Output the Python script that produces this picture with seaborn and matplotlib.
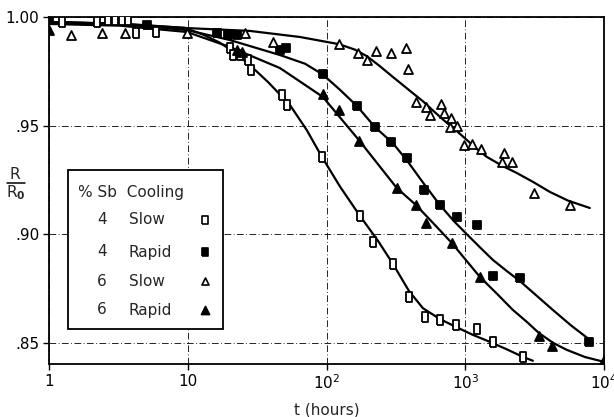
import numpy as np
import pandas as pd
import matplotlib
matplotlib.use("Agg")
import matplotlib.pyplot as plt
from matplotlib.patches import Rectangle
from matplotlib.lines import Line2D
import seaborn as sns

# ---- data ----
s4_slow_x = [1.24, 2.22, 2.66, 2.99, 3.36, 3.71, 4.24, 5.9, 20.1, 21.2, 23.8, 27.1, 28.5, 47.7, 51.8,
             92.7, 174, 216, 301, 392, 512, 656, 855, 1213, 1582, 2601]
s4_slow_y = [0.9977, 0.9977, 0.9986, 0.9986, 0.9986, 0.9986, 0.9926, 0.993, 0.9857, 0.9825, 0.9825, 0.9802,
             0.9756, 0.9641, 0.9595, 0.9356, 0.9085, 0.8965, 0.8864, 0.8712, 0.862, 0.8606, 0.8583, 0.8565,
             0.8505, 0.8436]

s4_rapid_x = [1.0, 5.08, 16.2, 19.5, 22.6, 46.2, 51, 94.2, 166, 223, 291, 380, 503, 656, 869, 1213, 1582,
              2474, 7770]
s4_rapid_y = [0.999, 0.9963, 0.9926, 0.9917, 0.9917, 0.9848, 0.9857, 0.9738, 0.959, 0.9494, 0.9425, 0.9351,
              0.9204, 0.9135, 0.908, 0.9043, 0.8809, 0.88, 0.8505]

s6_slow_x = [1.44, 2.41, 3.53, 9.87, 25.8, 41.1, 123, 168, 195, 227, 291, 373, 386, 441, 520, 556, 667, 702,
             788, 774, 869, 977, 1116, 1295, 1897, 1835, 2167, 3120, 5676]
s6_slow_y = [0.9917, 0.9926, 0.9926, 0.9926, 0.9926, 0.9885, 0.9876, 0.9834, 0.9802, 0.9844, 0.9834, 0.9857,
             0.9761, 0.9609, 0.9586, 0.9549, 0.96, 0.9558, 0.9535, 0.9494, 0.9499, 0.9411, 0.9416, 0.9393,
             0.9374, 0.9333, 0.9333, 0.919, 0.9135]

s6_rapid_x = [1.0, 22.6, 24.6, 94.2, 123, 171, 321, 441, 520, 800, 1274, 3390, 4205, 10000]
s6_rapid_y = [0.994, 0.9848, 0.9839, 0.9646, 0.9572, 0.943, 0.9213, 0.9135, 0.9052, 0.896, 0.8804, 0.8533,
              0.8487, 0.8422]

# fitted curves (nodes)
c4_slow_x = [1, 3.25, 9.55, 13, 17, 22, 28, 38, 54.5, 72, 92.7, 125, 174, 235, 301, 392, 495, 656, 855,
             1135, 1504, 2000, 2601, 3069]
c4_slow_y = [0.9977, 0.997, 0.995, 0.9918, 0.9882, 0.9835, 0.9779, 0.9700, 0.9595, 0.9480, 0.9356, 0.9220,
             0.9085, 0.8970, 0.8864, 0.8740, 0.8660, 0.8610, 0.8574, 0.8537, 0.8505, 0.8470, 0.8436, 0.8418]

c4_rapid_x = [1, 3.25, 9.87, 20.1, 46.2, 70, 94.2, 125, 166, 223, 300, 380, 500, 656, 830, 1027, 1300,
              1582, 2000, 2474, 3300, 4276, 5800, 7905]
c4_rapid_y = [0.9977, 0.9968, 0.994, 0.9894, 0.9825, 0.9785, 0.9735, 0.9665, 0.959, 0.9494, 0.9420, 0.9340,
              0.9235, 0.9135, 0.9060, 0.9000, 0.8935, 0.8882, 0.8830, 0.8785, 0.8715, 0.8652, 0.8580, 0.8514]

c6_slow_x = [1, 3.25, 9.87, 28, 64.3, 123, 160, 195, 240, 301, 400, 500, 584, 700, 869, 1027, 1200, 1432,
             1850, 2354, 3100, 4073, 5500, 7905]
c6_slow_y = [0.9977, 0.9968, 0.9949, 0.9936, 0.9908, 0.9875, 0.9850, 0.9820, 0.9776, 0.9724, 0.9660, 0.9610,
             0.9570, 0.9525, 0.9475, 0.9434, 0.9395, 0.9356, 0.9315, 0.9282, 0.9240, 0.9195, 0.9155, 0.9121]

c6_rapid_x = [1, 3.25, 9.87, 20.1, 46.2, 94.2, 171, 321, 441, 600, 800, 1000, 1274, 1700, 2203, 2800, 3390,
              4300, 5396, 7300, 10000]
c6_rapid_y = [0.9968, 0.996, 0.9931, 0.9862, 0.9765, 0.9632, 0.9434, 0.9213, 0.9135, 0.9045, 0.896, 0.8885,
              0.8804, 0.8725, 0.8652, 0.8595, 0.8546, 0.8500, 0.8468, 0.8435, 0.8413]

legend_pct = ["4", "4", "6", "6"]
legend_cool = ["Slow", "Rapid", "Slow", "Rapid"]

x_ticks = [1, 10, 100, 1000, 10000]
x_ticklabels = ["1", "10", r"$10^2$", r"$10^3$", r"$10^4$"]
y_ticks = [0.85, 0.90, 0.95, 1.00]
y_ticklabels = [".85", ".90", ".95", "1.00"]

# ---- styling ----
sns.set_theme(style="white")
plt.rcParams["font.family"] = ["DejaVu Sans"]
plt.rcParams["mathtext.fontset"] = "dejavusans"

fig = plt.figure(figsize=(6.14, 4.17), dpi=100)
ax = fig.add_axes([49 / 614, 1 - 364 / 417, 555 / 614, 347 / 417])

rect_marker = [(-0.7, -1), (0.7, -1), (0.7, 1), (-0.7, 1), (-0.7, -1)]
fill_marker = [(-0.85, -1), (0.85, -1), (0.85, 1), (-0.85, 1), (-0.85, -1)]

curves = [(c4_slow_x, c4_slow_y), (c4_rapid_x, c4_rapid_y), (c6_slow_x, c6_slow_y), (c6_rapid_x, c6_rapid_y)]
for cx, cy in curves:
    dfc = pd.DataFrame({"t": cx, "r": cy})
    sns.lineplot(data=dfc, x="t", y="r", ax=ax, color="black", lw=1.6, sort=False, estimator=None, zorder=2)

series = [
    (s4_slow_x, s4_slow_y, rect_marker, "white", 45),
    (s4_rapid_x, s4_rapid_y, fill_marker, "black", 40),
    (s6_slow_x, s6_slow_y, "^", "white", 42),
    (s6_rapid_x, s6_rapid_y, "^", "black", 42),
]
for sx, sy, mk, fc, sz in series:
    dfs = pd.DataFrame({"t": sx, "r": sy})
    sns.scatterplot(data=dfs, x="t", y="r", ax=ax, marker=mk, s=sz, facecolor=fc, edgecolor="black",
                    linewidth=1.3, zorder=4, clip_on=True)

ax.set_xscale("log")
ax.set_xlim(1, 10000)
ax.set_ylim(0.8403, 1.0)
ax.set_xticks(x_ticks)
ax.set_xticklabels(x_ticklabels)
ax.set_yticks(y_ticks)
ax.set_yticklabels(y_ticklabels)
ax.minorticks_off()
ax.tick_params(axis="both", labelsize=11, colors="black", length=4, width=1, direction="out",
               left=True, bottom=True, pad=3)
ax.grid(True, which="major", color="black", linestyle=(0, (8, 3, 1, 3)), linewidth=0.6)
for sp in ax.spines.values():
    sp.set_color("black")
    sp.set_linewidth(1.3)
ax.set_xlabel("t (hours)", fontsize=11, labelpad=7)
ax.set_ylabel("")

# R / R0 label
fig.text(15 / 614, 1 - 174 / 417, "R", fontsize=11, ha="center", va="center")
fig.text(16 / 614, 1 - 193 / 417, r"R$_\mathbf{0}$", fontsize=11, ha="center", va="center")
fig.add_artist(Line2D([7 / 614, 25 / 614], [1 - 183.5 / 417, 1 - 183.5 / 417], color="black", lw=1.1))

# ---- legend box ----
x0, x1 = (68 - 49) / 555, (223 - 49) / 555
y0, y1 = (364 - 329) / 347, (364 - 170) / 347
ax.add_patch(Rectangle((x0, y0), x1 - x0, y1 - y0, transform=ax.transAxes, facecolor="white",
                       edgecolor="black", lw=1.3, zorder=6))
ax.text((78 - 49) / 555, (364 - 192) / 347, "% Sb  Cooling", transform=ax.transAxes, fontsize=11,
        ha="left", va="center", zorder=7)
row_y = [(364 - py) / 347 for py in (220, 252, 281, 310)]
legend_styles = [(rect_marker, "white", 28), (fill_marker, "black", 28), ("^", "white", 26), ("^", "black", 34)]
for ry, pct, cool, (mk, fc, ms) in zip(row_y, legend_pct, legend_cool, legend_styles):
    ax.text((102 - 49) / 555, ry, pct, transform=ax.transAxes, fontsize=11, ha="center", va="center", zorder=7)
    ax.text((129 - 49) / 555, ry, cool, transform=ax.transAxes, fontsize=11, ha="left", va="center", zorder=7)
    ax.scatter([(205 - 49) / 555], [ry], transform=ax.transAxes, marker=mk, s=ms, facecolor=fc,
               edgecolor="black", linewidth=1.2, zorder=8, clip_on=False)

fig.savefig("out.png", dpi=100)
